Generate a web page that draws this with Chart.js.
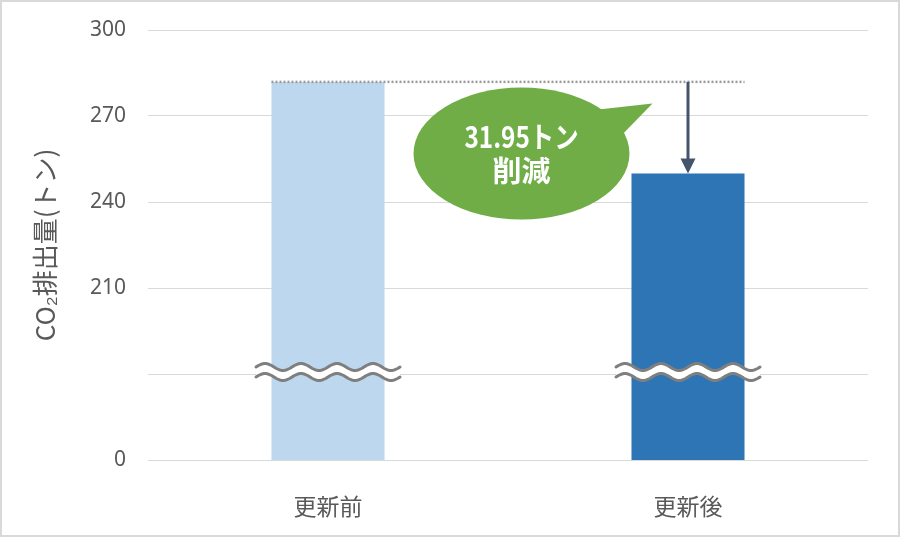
<!DOCTYPE html>
<html lang="ja">
<head>
<meta charset="utf-8">
<title>CO₂排出量</title>
<script src="https://cdn.jsdelivr.net/npm/chart.js@4.4.1/dist/chart.umd.min.js"></script>
<style>
  html, body { margin: 0; padding: 0; background: #fff; }
  #wrap { width: 900px; height: 537px; position: relative; }
</style>
</head>
<body>
<div id="wrap"><canvas id="co2Chart"></canvas></div>
<script>
const categories = ["更新前", "更新後"];
const emissions = [281.9, 249.95];
const barColors = ["#bdd7ee", "#2e75b6"];
const tickValues = [150, 180, 210, 240, 270, 300];
const tickLabels = ["0", "", "210", "240", "270", "300"];
const breakValue = 180;
const calloutLines = ["31.95トン", "削減"];

const textColor = "#595959";
const gridColor = "#d9d9d9";

// two wavy lines with a white gap, marks the broken axis
function drawBreak(ctx, cx, cy) {
    const half = 72, period = 36, amp = 3.5, gap = 5;
    const yc = cy - 2;
    function wave(offset) {
        const pts = [];
        for (let x = -half; x <= half; x += 1) {
            pts.push([cx + x, yc + offset - amp * Math.sin(2 * Math.PI * (x + half) / period)]);
        }
        return pts;
    }
    const upper = wave(-gap);
    const lower = wave(gap);

    ctx.save();
    ctx.fillStyle = "#ffffff";
    ctx.beginPath();
    upper.forEach(function (p, i) { i ? ctx.lineTo(p[0], p[1]) : ctx.moveTo(p[0], p[1]); });
    for (let i = lower.length - 1; i >= 0; i--) ctx.lineTo(lower[i][0], lower[i][1]);
    ctx.closePath();
    ctx.fill();

    ctx.strokeStyle = "#7f7f7f";
    ctx.lineWidth = 3;
    ctx.lineCap = "round";
    [upper, lower].forEach(function (pts) {
        ctx.beginPath();
        pts.forEach(function (p, i) { i ? ctx.lineTo(p[0], p[1]) : ctx.moveTo(p[0], p[1]); });
        ctx.stroke();
    });
    ctx.restore();
}

function drawCallout(ctx, cx, cy) {
    const rx = 108, ry = 66;
    ctx.save();
    ctx.fillStyle = "#70ad47";
    ctx.beginPath();
    ctx.ellipse(cx, cy, rx, ry, 0, 0, Math.PI * 2);
    ctx.fill();
    // tail pointing up-right
    ctx.beginPath();
    ctx.moveTo(cx + 68, cy - 43);
    ctx.lineTo(cx + 131, cy - 50);
    ctx.lineTo(cx + 94, cy - 12);
    ctx.closePath();
    ctx.fill();

    ctx.fillStyle = "#ffffff";
    ctx.textAlign = "center";
    ctx.textBaseline = "middle";
    ctx.font = "bold 29px 'Noto Sans CJK JP', sans-serif";
    ctx.save();
    ctx.translate(cx, cy - 17);
    ctx.scale(0.84, 1);
    ctx.fillText(calloutLines[0], 0, 0);
    ctx.restore();
    ctx.fillText(calloutLines[1], cx, cy + 17);
    ctx.restore();
}

const overlayPlugin = {
    id: "overlay",
    afterDatasetsDraw: function (chart) {
        const ctx = chart.ctx;
        const xScale = chart.scales.x;
        const yScale = chart.scales.y;
        const bars = chart.getDatasetMeta(0).data;
        const before = bars[0];
        const after = bars[1];

        // dotted reference line at the old level
        ctx.save();
        ctx.strokeStyle = "#9a9a9a";
        ctx.lineWidth = 2.5;
        ctx.setLineDash([2, 2]);
        ctx.beginPath();
        ctx.moveTo(before.x - before.width / 2, before.y);
        ctx.lineTo(after.x + after.width / 2, before.y);
        ctx.stroke();
        ctx.restore();

        // arrow down to the new level
        ctx.save();
        ctx.strokeStyle = "#44546a";
        ctx.fillStyle = "#44546a";
        ctx.lineWidth = 3;
        ctx.beginPath();
        ctx.moveTo(after.x, before.y);
        ctx.lineTo(after.x, after.y - 12);
        ctx.stroke();
        ctx.beginPath();
        ctx.moveTo(after.x - 7.5, after.y - 15);
        ctx.lineTo(after.x + 7.5, after.y - 15);
        ctx.lineTo(after.x, after.y);
        ctx.closePath();
        ctx.fill();
        ctx.restore();

        bars.forEach(function (bar) {
            drawBreak(ctx, bar.x, yScale.getPixelForValue(breakValue));
        });

        drawCallout(ctx, xScale.getPixelForValue(0.5375), yScale.getPixelForValue(256.9));
    },
    afterDraw: function (chart) {
        const ctx = chart.ctx;
        ctx.save();
        ctx.strokeStyle = gridColor;
        ctx.lineWidth = 2;
        ctx.strokeRect(1, 1, chart.width - 2, chart.height - 2);
        ctx.restore();
    }
};

document.addEventListener("DOMContentLoaded", function () {
    const canvas = document.getElementById("co2Chart");

    new Chart(canvas, {
        type: "bar",
        data: {
            labels: categories,
            datasets: [{
                data: emissions,
                backgroundColor: barColors,
                borderWidth: 0,
                barPercentage: 0.314,
                categoryPercentage: 1.0,
            }],
        },
        options: {
            responsive: true,
            maintainAspectRatio: false,
            animation: false,
            layout: { padding: { top: 30, right: 32, bottom: 0, left: 30 } },
            plugins: {
                legend: { display: false },
                tooltip: { enabled: false },
            },
            scales: {
                x: {
                    grid: { display: false },
                    border: { display: false },
                    ticks: {
                        color: textColor,
                        padding: 24,
                        font: { family: "'Noto Sans CJK JP', sans-serif", size: 23 },
                    },
                    afterFit: function (scale) { scale.height = 77; },
                },
                y: {
                    min: tickValues[0],
                    max: tickValues[tickValues.length - 1],
                    afterBuildTicks: function (scale) {
                        scale.ticks = tickValues.map(function (v) { return { value: v }; });
                    },
                    // the gap between labels and grid comes from invisible tick marks
                    grid: { color: gridColor, lineWidth: 1, drawTicks: true, tickLength: 22, tickColor: "rgba(0,0,0,0)" },
                    border: { display: false },
                    ticks: {
                        color: textColor,
                        padding: 0,
                        font: { family: "'Noto Sans', sans-serif", size: 21 },
                        callback: function (value) {
                            const i = tickValues.indexOf(value);
                            return i >= 0 ? tickLabels[i] : "";
                        },
                    },
                    title: {
                        display: true,
                        text: "CO₂排出量(トン)",
                        color: textColor,
                        padding: 0,
                        font: { family: "'Noto Sans CJK JP', sans-serif", size: 26 },
                    },
                    afterFit: function (scale) { scale.width = 118; },
                },
            },
        },
        plugins: [overlayPlugin],
    });
});
</script>
</body>
</html>
